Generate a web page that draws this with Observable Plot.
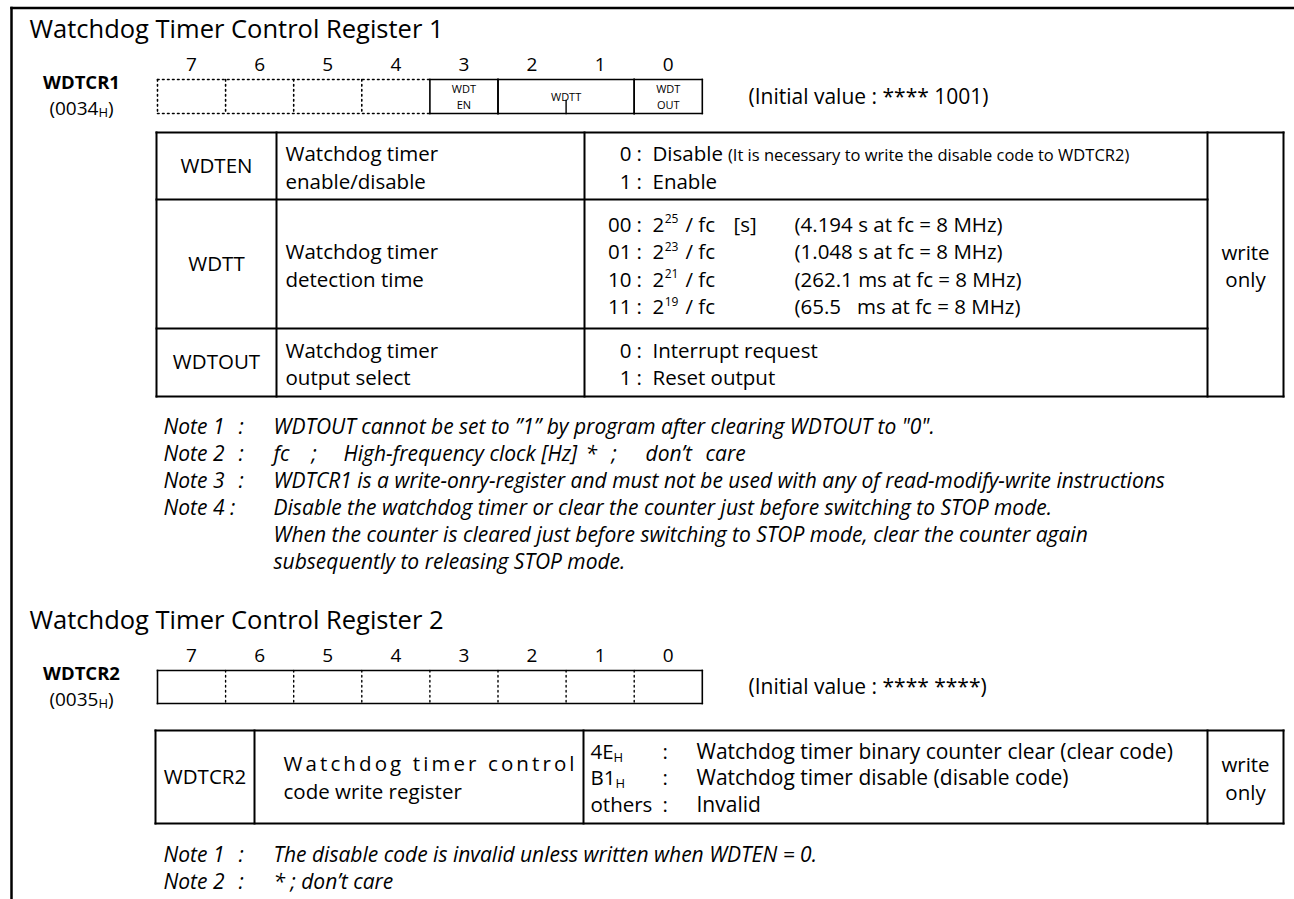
<!DOCTYPE html>
<html><head><meta charset="utf-8">
<script src="https://cdn.jsdelivr.net/npm/d3@7"></script>
<script src="https://cdn.jsdelivr.net/npm/@observablehq/plot@0.6"></script>
<style>html,body{margin:0;padding:0;background:#fff}</style>
</head><body>
<script>
// ---------------- DATA ----------------
const titles = ["Watchdog Timer Control Register 1", "Watchdog Timer Control Register 2"];
const bitNumbers = [7, 6, 5, 4, 3, 2, 1, 0];
const registerNames = ["WDTCR1", "WDTCR2"];
const registerAddrs = ["0034", "0035"];
const initialValues = ["(Initial value : **** 1001)", "(Initial value : **** ****)"];
const reg1Unused = [7, 6, 5, 4];
const reg1Fields = [
  {label: "WDT\nEN", hi: 3, lo: 3},
  {label: "WDTT", hi: 2, lo: 1},
  {label: "WDT\nOUT", hi: 0, lo: 0}
];
const table1Names = ["WDTEN", "WDTT", "WDTOUT"];
const table1Desc = [["Watchdog timer", "enable/disable"], ["Watchdog timer", "detection time"], ["Watchdog timer", "output select"]];
const wdtenCodes = ["0", "1"];
const wdtenMeanings = ["Disable", "Enable"];
const wdtenRemark = "(It is necessary to write the disable code to WDTCR2)";
const wdttCodes = ["00", "01", "10", "11"];
const wdttExponents = ["25", "23", "21", "19"];
const wdttUnit = "[s]";
const wdttExamples = ["(4.194 s at fc = 8 MHz)", "(1.048 s at fc = 8 MHz)", "(262.1 ms at fc = 8 MHz)", "(65.5\u00A0\u00A0\u00A0ms at fc = 8 MHz)"];
const wdtoutCodes = ["0", "1"];
const wdtoutMeanings = ["Interrupt request", "Reset output"];
const accessLabel = "write\nonly";
const table2Name = "WDTCR2";
const table2Desc = ["Watchdog timer control", "code write register"];
const table2Codes = ["4E", "B1", "others"];
const table2CodeSubs = ["H", "H", ""];
const table2Meanings = ["Watchdog timer binary counter clear (clear code)", "Watchdog timer disable (disable code)", "Invalid"];
const notes1Labels = ["Note 1", "Note 2", "Note 3", "Note 4 :", "", ""];
const notes1Texts = [
  "WDTOUT cannot be set to \u201D1\u201D by program after clearing WDTOUT to \"0\".",
  null,
  "WDTCR1 is a write-onry-register and must not be used with any of read-modify-write instructions",
  "Disable the watchdog timer or clear the counter just before switching to STOP mode.",
  "When the counter is cleared just before switching to STOP mode, clear the counter again",
  "subsequently to releasing STOP mode."
];
const note2Parts = ["fc", ";", "High-frequency clock [Hz]", "*", ";", "don\u2019t", "care"];
const notes2Labels = ["Note 1", "Note 2"];
const notes2Texts = ["The disable code is invalid unless written when WDTEN = 0.", "* ; don\u2019t care"];

// ---------------- LAYOUT ----------------
const W = 1294, H = 899;
const FAM = '"Open Sans", "Noto Sans", sans-serif';
const S = {title: 25.5, bit: 19, reg: 18.5, addr: 19, init: 21, field: 11, tab: 20.5, tab2: 21, small: 16.5, sup: 12, sub: 13, note: 21};
const cellX0 = 157, cellW = 68.1;
const edge = i => cellX0 + cellW * i;
const bitIdx = b => 7 - b;
const reg = [{titleY: 37, bitY: 70, top: 79, bottom: 113}, {titleY: 628, bitY: 661, top: 670, bottom: 703}];
const t1 = {cols: [156, 276, 584, 1207, 1283], rows: [132, 199, 328, 396]};
const t2 = {cols: [155, 254, 583, 1207, 1283], rows: [730, 823]};
const pitch = 27.5, notePitch = 27;
const note2Offsets = [0, 38, 70, 312, 338, 372, 432];

const ctx = document.createElement("canvas").getContext("2d");
function tw(t, size, weight = "normal", style = "normal") {
  ctx.font = `${style} ${weight} ${size}px ${FAM}`;
  return ctx.measureText(t).width;
}
const runs = [];
function put(t, x, y, size, o = {}) {
  t = String(t);
  runs.push({t, x, y, size, weight: o.weight || "normal", style: o.style || "normal",
    anchor: o.anchor || "start", la: o.la || "bottom", lh: o.lh || 1});
  return x + tw(t, size, o.weight, o.style);
}
const lines = []; // {x1,y1,x2,y2,w,dot}
function seg(x1, y1, x2, y2, w, dot = false) { lines.push({x1, y1, x2, y2, w, dot}); }
function rectLines(x1, y1, x2, y2, w) { seg(x1, y1, x2, y1, w); seg(x2, y1, x2, y2, w); seg(x2, y2, x1, y2, w); seg(x1, y2, x1, y1, w); }

// frame
seg(11, 7.5, W, 7.5, 2.5);
seg(11, 7.5, 11, H, 2.5);

// registers
reg.forEach((r, k) => {
  put(titles[k], 29, r.titleY, S.title);
  bitNumbers.forEach(b => put(b, (edge(bitIdx(b)) + edge(bitIdx(b) + 1)) / 2, r.bitY, S.bit, {anchor: "middle"}));
  put(registerNames[k], 81, r.top + 9, S.reg, {anchor: "middle", weight: "bold"});
  const a = registerAddrs[k];
  const tot = tw("(" + a, S.addr) + tw("H", S.sub) + tw(")", S.addr);
  let x = put("(" + a, 81 - tot / 2, r.top + 35, S.addr);
  x = put("H", x, r.top + 37, S.sub);
  put(")", x, r.top + 35, S.addr);
  put(initialValues[k], 748, (r.top + r.bottom) / 2 + 7, S.init);
});
// register 1 cells
{
  const r = reg[0];
  const i0 = bitIdx(reg1Unused[0]), i1 = bitIdx(reg1Unused[reg1Unused.length - 1]) + 1;
  seg(edge(i0), r.top, edge(i1), r.top, 1.6, true);
  seg(edge(i0), r.bottom, edge(i1), r.bottom, 1.6, true);
  for (let i = i0; i < i1; i++) seg(edge(i), r.top, edge(i), r.bottom, 1.6, true);
  reg1Fields.forEach(f => {
    const xa = edge(bitIdx(f.hi)), xb = edge(bitIdx(f.lo) + 1);
    rectLines(xa, r.top, xb, r.bottom, 1.6);
    const parts = f.label.split("\n");
    const cy = (r.top + r.bottom) / 2;
    parts.forEach((p, j) => put(p, (xa + xb) / 2, cy + (j - (parts.length - 1) / 2) * 15.2 + 1, S.field, {anchor: "middle", la: "middle"}));
    for (let b = f.hi - 1; b >= f.lo; b--) {
      const xe = edge(bitIdx(b));
      seg(xe, r.top + 21, xe, r.bottom, 1.4);
    }
  });
}
// register 2 cells
{
  const r = reg[1];
  rectLines(edge(0), r.top, edge(8), r.bottom, 1.6);
  for (let i = 1; i < 8; i++) seg(edge(i), r.top, edge(i), r.bottom, 1.4, true);
}

// table 1
{
  const [c0, c1, c2, c3, c4] = t1.cols, rows = t1.rows;
  rectLines(c0, rows[0], c4, rows[rows.length - 1], 2);
  [c1, c2, c3].forEach(c => seg(c, rows[0], c, rows[rows.length - 1], 2));
  rows.slice(1, -1).forEach(y => seg(c0, y, c3, y, 2));
  const mid = i => (rows[i] + rows[i + 1]) / 2;
  const base = (i, j, n) => mid(i) + (j - (n - 1) / 2) * pitch + 9;
  table1Names.forEach((nm, i) => {
    put(nm, (c0 + c1) / 2, mid(i), S.tab, {anchor: "middle", la: "middle"});
    table1Desc[i].forEach((d, j) => put(d, c1 + 9, base(i, j, table1Desc[i].length), S.tab));
  });
  const codeEnd = 631, colonX = 636, valX = 652;
  wdtenCodes.forEach((c, j) => {
    const b = base(0, j, 2);
    put(c, codeEnd, b, S.tab, {anchor: "end"});
    put(":", colonX, b, S.tab);
    const x = put(wdtenMeanings[j], valX, b, S.tab);
    if (j === 0) put(wdtenRemark, x + 5, b, S.small);
  });
  wdttCodes.forEach((c, j) => {
    const b = base(1, j, 4);
    put(c, codeEnd, b, S.tab, {anchor: "end"});
    put(":", colonX, b, S.tab);
    let x = put("2", valX, b, S.tab);
    x = put(wdttExponents[j], x + 0.5, b - 8.5, S.sup);
    put("/ fc", x + 7, b, S.tab);
    if (j === 0) put(wdttUnit, 733, b, S.tab);
    put(wdttExamples[j], 794, b, S.tab);
  });
  wdtoutCodes.forEach((c, j) => {
    const b = base(2, j, 2);
    put(c, codeEnd, b, S.tab, {anchor: "end"});
    put(":", colonX, b, S.tab);
    put(wdtoutMeanings[j], valX, b, S.tab);
  });
  put(accessLabel, (c3 + c4) / 2, (rows[0] + rows[rows.length - 1]) / 2, S.tab, {anchor: "middle", la: "middle", lh: pitch / S.tab});
}

// notes 1
{
  const y0 = t1.rows[t1.rows.length - 1] + 37;
  notes1Labels.forEach((lab, k) => {
    const y = y0 + k * notePitch;
    if (lab) {
      put(lab, 163, y, S.note, {style: "italic"});
      if (!lab.includes(":")) put(":", 238, y, S.note, {style: "italic"});
    }
    if (notes1Texts[k] !== null) put(notes1Texts[k], 273, y, S.note, {style: "italic"});
    else note2Parts.forEach((p, m) => put(p, 273 + note2Offsets[m], y, S.note, {style: "italic"}));
  });
}

// table 2
{
  const [c0, c1, c2, c3, c4] = t2.cols, [ya, yb] = t2.rows, mid = (ya + yb) / 2;
  rectLines(c0, ya, c4, yb, 2);
  [c1, c2, c3].forEach(c => seg(c, ya, c, yb, 2));
  put(table2Name, (c0 + c1) / 2, mid, S.tab, {anchor: "middle", la: "middle"});
  table2Desc.forEach((d, j) => put(d, c1 + 29, mid + (j - 0.5) * pitch + 8, S.tab));
  table2Codes.forEach((c, j) => {
    const b = mid + (j - 1) * 26.5 + 8;
    const x = put(c, c2 + 7, b, S.tab);
    if (table2CodeSubs[j]) put(table2CodeSubs[j], x, b + 3, S.sub);
    put(":", 662, b, S.tab);
    put(table2Meanings[j], 696, b, S.tab2);
  });
  put(accessLabel, (c3 + c4) / 2, mid, S.tab, {anchor: "middle", la: "middle", lh: pitch / S.tab});
}

// notes 2
{
  const y0 = t2.rows[1] + 38;
  notes2Labels.forEach((lab, k) => {
    const y = y0 + k * notePitch;
    put(lab, 163, y, S.note, {style: "italic"});
    put(":", 238, y, S.note, {style: "italic"});
    put(notes2Texts[k], 273, y, S.note, {style: "italic"});
  });
}

// ---------------- PLOT ----------------
const marks = [];
for (const [key, data] of d3.groups(lines, d => d.w + "|" + d.dot)) {
  marks.push(Plot.link(data, {x1: "x1", y1: "y1", x2: "x2", y2: "y2", stroke: "black",
    strokeWidth: data[0].w, strokeDasharray: data[0].dot ? "1.6 3.4" : null, strokeLinecap: data[0].dot ? "round" : "square"}));
}
for (const [key, data] of d3.groups(runs, d => [d.size, d.weight, d.style, d.anchor, d.la, d.lh].join("|"))) {
  const d0 = data[0];
  marks.push(Plot.text(data, {x: "x", y: "y", text: "t", fontSize: d0.size, fontWeight: d0.weight,
    fontStyle: d0.style, textAnchor: d0.anchor, lineAnchor: d0.la, lineHeight: d0.lh,
    fontFamily: FAM, fill: "black"}));
}
const svg = Plot.plot({
  width: W, height: H, margin: 0,
  x: {domain: [0, W], range: [0, W], axis: null},
  y: {domain: [0, H], range: [0, H], axis: null},
  style: {background: "white", fontFamily: FAM, overflow: "visible"},
  marks
});
document.body.appendChild(svg);
// letter-spaced description line in table 2
svg.querySelectorAll("text").forEach(el => {
  if (el.textContent === table2Desc[0]) {
    el.setAttribute("textLength", t2.cols[2] - t2.cols[1] - 38);
    el.setAttribute("lengthAdjust", "spacing");
  }
});
</script>
</body></html>
